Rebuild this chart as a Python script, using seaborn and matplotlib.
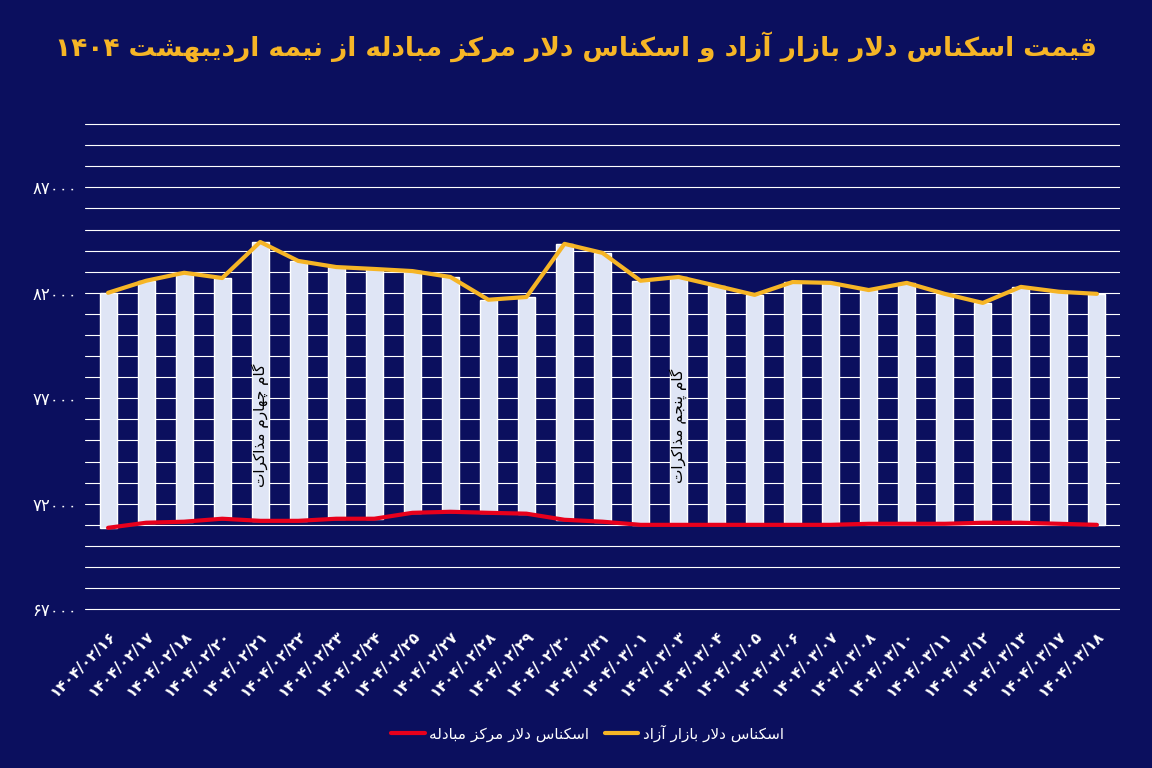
import unicodedata
import numpy as np
import pandas as pd
import matplotlib
matplotlib.use("Agg")
import matplotlib.pyplot as plt
import seaborn as sns

dates = ["۱۴۰۴/۰۲/۱۶", "۱۴۰۴/۰۲/۱۷", "۱۴۰۴/۰۲/۱۸", "۱۴۰۴/۰۲/۲۰", "۱۴۰۴/۰۲/۲۱", "۱۴۰۴/۰۲/۲۲",
         "۱۴۰۴/۰۲/۲۳", "۱۴۰۴/۰۲/۲۴", "۱۴۰۴/۰۲/۲۵", "۱۴۰۴/۰۲/۲۷", "۱۴۰۴/۰۲/۲۸", "۱۴۰۴/۰۲/۲۹",
         "۱۴۰۴/۰۲/۳۰", "۱۴۰۴/۰۲/۳۱", "۱۴۰۴/۰۳/۰۱", "۱۴۰۴/۰۳/۰۳", "۱۴۰۴/۰۳/۰۴", "۱۴۰۴/۰۳/۰۵",
         "۱۴۰۴/۰۳/۰۶", "۱۴۰۴/۰۳/۰۷", "۱۴۰۴/۰۳/۰۸", "۱۴۰۴/۰۳/۱۰", "۱۴۰۴/۰۳/۱۱", "۱۴۰۴/۰۳/۱۲",
         "۱۴۰۴/۰۳/۱۳", "۱۴۰۴/۰۳/۱۷", "۱۴۰۴/۰۳/۱۸"]
free_market = [82000, 82570, 82950, 82700, 84410, 83510, 83220, 83130, 83030, 82750, 81670, 81800,
               84320, 83890, 82570, 82750, 82330, 81900, 82510, 82470, 82130, 82470, 81950, 81520,
               82280, 82050, 81950]
exchange_center = [70860, 71100, 71150, 71290, 71190, 71190, 71290, 71290, 71570, 71620, 71570, 71530,
                   71240, 71150, 71000, 71000, 71000, 71000, 71000, 71000, 71050, 71050, 71050, 71100,
                   71100, 71050, 71000]
yticks = [67000, 72000, 77000, 82000, 87000]

title_text = "قیمت اسکناس دلار بازار آزاد و اسکناس دلار مرکز مبادله از نیمه اردیبهشت ۱۴۰۴"
label_free = "اسکناس دلار بازار آزاد"
label_center = "اسکناس دلار مرکز مبادله"
note4 = "گام چهارم مذاکرات"
note5 = "گام پنجم مذاکرات"

# --- minimal Arabic/Persian shaping ---
RIGHT_ONLY = set("اآأإدذرزژوؤة")
def _form(ch, kind):
    try:
        name = unicodedata.name(ch)
        return unicodedata.lookup(name + " " + kind + " FORM")
    except (KeyError, ValueError):
        return ch
def _is_ar(ch):
    return "\u0620" <= ch <= "\u064A" or ch in "پچژگکی"
def shape(s):
    out = []
    chars = list(s)
    n = len(chars)
    i = 0
    while i < n:
        c = chars[i]
        if not _is_ar(c):
            out.append(c); i += 1; continue
        prev_joins = i > 0 and _is_ar(chars[i-1]) and chars[i-1] not in RIGHT_ONLY
        if c == "ل" and i + 1 < n and chars[i+1] in "اآأإ":
            out.append("\uFEFC" if prev_joins else "\uFEFB"); i += 2; continue
        next_joins = c not in RIGHT_ONLY and i + 1 < n and _is_ar(chars[i+1])
        if prev_joins and next_joins: kind = "MEDIAL"
        elif prev_joins: kind = "FINAL"
        elif next_joins: kind = "INITIAL"
        else: kind = "ISOLATED"
        out.append(_form(c, kind)); i += 1
    runs, cur, isdig = [], "", None
    for ch in out:
        d = ch.isdigit()
        if isdig is None or d == isdig: cur += ch
        else: runs.append(cur); cur = ch
        isdig = d
    runs.append(cur)
    return "".join(r if r[0].isdigit() else r[::-1] for r in reversed(runs))

BG = "#0b0f5e"
GOLD = "#f6b526"
sns.set_theme(style="white", rc={"font.family": "DejaVu Sans"})
fig = plt.figure(figsize=(11.52, 7.68), dpi=100, facecolor=BG)
ax = fig.add_axes([0.074, 0.193, 0.898, 0.651], facecolor=BG)

df = pd.DataFrame({"date": dates, "free": free_market, "center": exchange_center})
df["gap"] = df["free"] - df["center"]
for v in range(67000, 90001, 1000):
    ax.axhline(v, color="white", lw=0.8, zorder=0)
sns.barplot(data=df, x="date", y="gap", bottom=df["center"], color="#dfe5f5",
            saturation=1, width=0.45, ax=ax, zorder=2)
xs = np.arange(len(dates))
sns.lineplot(x=xs, y=df["free"], color=GOLD, lw=3, ax=ax, zorder=3, label=shape(label_free), legend=False)
sns.lineplot(x=xs, y=df["center"], color="#e8001c", lw=3, ax=ax, zorder=3, label=shape(label_center), legend=False)

ax.set_ylim(66500, 90200)
ax.set_xlim(-0.6, len(dates) - 0.4)
ax.set_yticks(yticks)
ax.set_yticklabels([shape(str(v).translate(str.maketrans("0123456789", "۰۱۲۳۴۵۶۷۸۹"))) for v in yticks],
                   color="white", fontsize=12)
ax.set_xticks(xs)
ax.set_xticklabels(dates, rotation=45, ha="right", rotation_mode="anchor",
                   color="white", fontsize=11, fontweight="bold")
ax.tick_params(length=0, pad=6)
ax.set_xlabel(""); ax.set_ylabel("")
for s in ax.spines.values():
    s.set_visible(False)
if ax.get_legend() is not None:
    ax.get_legend().remove()

ax.text(4, 75700, shape(note4), rotation=90, ha="center", va="center", fontsize=11, color="black", zorder=4)
ax.text(15, 75700, shape(note5), rotation=90, ha="center", va="center", fontsize=11, color="black", zorder=4)

h, l = ax.get_legend_handles_labels()
leg = fig.legend([h[1], h[0]], [l[1], l[0]], loc="center", bbox_to_anchor=(0.51, 0.045), ncol=2,
                 frameon=False, fontsize=11, handlelength=2.2, columnspacing=1.0, handletextpad=0.3)
for t in leg.get_texts():
    t.set_color("white")

fig.text(0.5, 0.94, shape(title_text), ha="center", va="center", fontsize=19, fontweight="bold", color=GOLD)
fig.savefig("out.png", dpi=100, facecolor=BG)
